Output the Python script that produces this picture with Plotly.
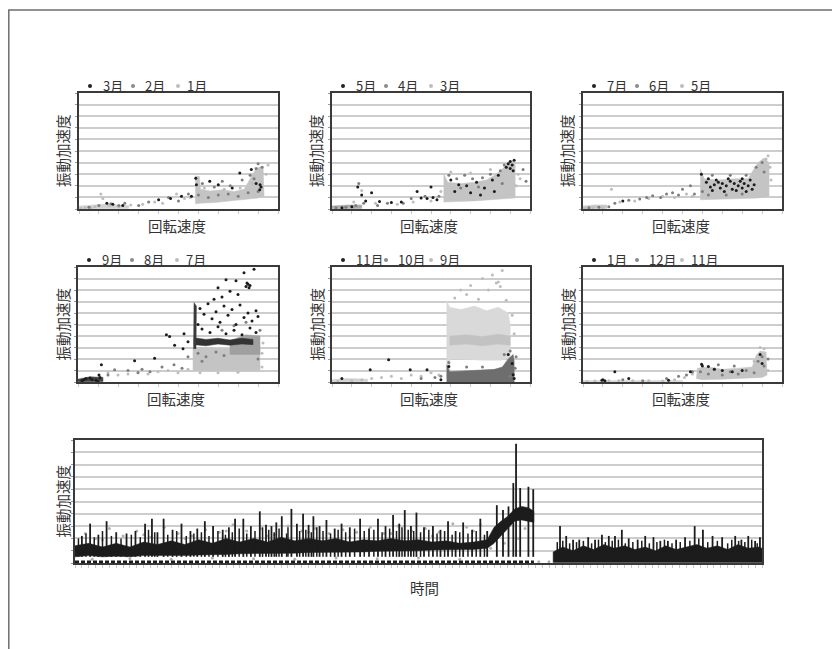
import plotly.graph_objects as go

# page body has an 8px margin: the figure is drawn 8px in from the window corner
OFF = 8
W, H = 832, 641

# ---------------- data: six monthly scatter panels (x = 回転速度, y = 振動加速度) ----------------
P1_MONTHS = ["3月", "2月", "1月"]
P1_LOW_X = [0, 2.5, 2.5, 1.2, 0]
P1_LOW_Y = [0.02, 0.05, 0.3, 0.4, 0.25]
P1_CORE_X = [5.85, 5.85, 6.05, 6.1, 6.6, 7.2, 7.8, 8.3, 8.6, 8.9, 9.25, 9.3, 9.0, 8.4, 7.6, 6.8, 6.1]
P1_CORE_Y = [0.45, 2.85, 2.8, 1.7, 1.55, 1.65, 1.5, 1.7, 2.6, 3.5, 3.7, 1.1, 0.95, 0.85, 0.7, 0.55, 0.5]
P1_BLACK_X = [1.4, 1.7, 2.2, 4.0, 4.6, 5.15, 5.65, 5.87, 5.9, 6.57, 7.0, 7.7, 8.08, 8.66, 8.9, 9.1, 9.08, 9.15]
P1_BLACK_Y = [0.5, 0.4, 0.3, 0.8, 0.9, 1.1, 1.1, 2.65, 2.1, 2.4, 2.1, 1.8, 3.1, 3.4, 2.2, 2.1, 1.66, 1.9]
P1_GREY_X = [0.5, 1.0, 1.6, 2.0, 2.3, 3.0, 3.5, 4.5, 5.0, 5.5, 6.0, 6.2, 6.5, 6.8, 7.0, 7.2, 7.5, 7.6, 8.0, 8.2, 8.5, 8.6, 8.8, 8.9, 9.0, 9.2, 9.0]
P1_GREY_Y = [0.15, 0.3, 0.45, 0.3, 0.5, 0.3, 0.6, 1.0, 0.7, 1.3, 1.2, 2.2, 1.0, 1.9, 1.2, 2.4, 1.3, 2.0, 1.1, 2.5, 1.4, 2.9, 2.6, 3.5, 3.9, 3.6, 1.5]
P1_LIGHT_X = [0.1, 0.3, 0.6, 0.8, 1.1, 1.2, 1.5, 2.0, 2.6, 3.2, 3.8, 4.2, 4.9, 5.3, 5.6, 6.3, 7.3, 8.1, 8.7, 9.4, 9.5]
P1_LIGHT_Y = [0.05, 0.1, 0.08, 0.2, 1.3, 0.9, 0.3, 0.2, 0.35, 0.4, 0.6, 0.5, 1.3, 0.9, 1.0, 1.8, 1.7, 1.8, 2.2, 3.0, 3.8]

P2_MONTHS = ["5月", "4月", "3月"]
P2_LOW_X = [0, 1.5, 1.5, 0.8, 0]
P2_LOW_Y = [0.02, 0.05, 0.35, 0.35, 0.25]
P2_CORE_X = [5.65, 5.65, 5.85, 6.5, 7.2, 7.8, 8.3, 8.7, 9.0, 9.25, 9.25, 8.8, 8.0, 7.2, 6.4, 5.8]
P2_CORE_Y = [0.6, 3.0, 2.3, 2.2, 2.3, 2.5, 3.0, 3.6, 4.2, 4.0, 0.95, 0.9, 0.75, 0.7, 0.65, 0.6]
P2_BLACK_X = [8.8, 8.9, 9.0, 9.1, 9.2, 9.0, 9.15, 6.0, 6.4, 6.8, 7.3, 7.7, 8.1, 8.4, 6.2, 7.0, 7.5, 8.2,
              1.3, 1.5, 1.7, 2.0, 2.4, 3.0, 3.5, 4.3, 4.5, 4.8, 5.1, 5.3, 5.0, 0.5, 1.0]
P2_BLACK_Y = [3.6, 3.9, 4.1, 3.8, 4.2, 3.5, 3.3, 2.5, 2.1, 2.0, 2.3, 1.8, 2.5, 2.9, 1.5, 1.4, 1.2, 1.5,
              1.9, 1.2, 0.7, 1.4, 0.65, 0.55, 0.6, 1.5, 0.95, 0.9, 1.0, 0.8, 1.9, 0.1, 0.2]
P2_GREY_X = [0.2, 0.7, 1.2, 1.35, 1.6, 2.3, 2.8, 3.6, 4.0, 4.7, 5.4, 5.9, 6.3, 6.7, 7.1, 7.6, 8.0, 8.5, 8.7, 9.65, 9.8, 6.5, 7.4, 8.6]
P2_GREY_Y = [0.1, 0.15, 0.3, 2.2, 0.5, 0.3, 0.5, 0.5, 0.9, 1.1, 1.1, 2.9, 2.6, 2.9, 2.6, 2.7, 3.0, 3.3, 3.8, 3.4, 2.4, 1.8, 1.9, 2.2]
P2_LIGHT_X = [0.1, 0.4, 0.9, 1.1, 1.5, 2.2, 3.3, 4.1, 5.0, 5.5, 9.4, 9.3, 6.0, 7.0, 8.0, 9.5]
P2_LIGHT_Y = [0.05, 0.1, 0.1, 0.6, 1.6, 0.5, 0.4, 0.6, 0.7, 1.5, 3.0, 2.0, 3.2, 3.1, 3.4, 2.6]

P3_MONTHS = ["7月", "6月", "5月"]
P3_LOW_X = [0, 1.2, 1.2, 0.6, 0]
P3_LOW_Y = [0.02, 0.05, 0.35, 0.35, 0.25]
P3_CORE_X = [5.9, 5.9, 6.1, 6.8, 7.6, 8.3, 8.5, 8.8, 9.1, 9.35, 9.35, 8.8, 8.0, 7.0, 6.3]
P3_CORE_Y = [0.8, 3.4, 2.6, 2.5, 2.6, 2.6, 3.2, 4.0, 4.4, 4.0, 1.1, 0.95, 0.9, 0.85, 0.8]
P3_BLACK_X = [6.2, 6.4, 6.6, 6.7, 6.9, 7.0, 7.2, 7.3, 7.5, 7.6, 7.8, 7.9, 8.0, 8.1, 8.3, 8.4, 8.5, 8.6,
              6.5, 7.1, 7.7, 8.2, 2.0, 5.95, 6.3, 6.8, 7.4, 8.0]
P3_BLACK_Y = [2.3, 1.9, 2.1, 2.5, 1.8, 2.2, 2.0, 2.6, 1.7, 2.2, 2.0, 2.4, 1.8, 2.2, 2.0, 2.5, 1.7, 2.1,
              1.6, 1.5, 1.6, 1.5, 0.7, 3.0, 2.6, 2.3, 2.4, 2.6]
P3_GREY_X = [0.3, 0.8, 1.3, 1.6, 2.3, 2.85, 3.2, 3.5, 3.9, 4.2, 4.5, 4.8, 5.0, 5.4, 5.6, 6.0, 6.5, 7.4, 8.2, 8.7, 9.0, 9.1, 6.3, 7.2, 8.0]
P3_GREY_Y = [0.1, 0.15, 0.2, 0.5, 0.75, 0.86, 1.0, 1.15, 1.0, 1.3, 1.4, 1.2, 1.7, 2.0, 1.3, 1.5, 2.9, 2.9, 2.9, 3.6, 4.0, 3.2, 1.2, 1.2, 1.3]
P3_LIGHT_X = [0.1, 0.5, 1.0, 1.43, 1.85, 2.6, 3.3, 4.0, 4.6, 5.2, 5.5, 9.4, 9.3, 9.2, 9.45]
P3_LIGHT_Y = [0.05, 0.1, 0.1, 1.7, 0.6, 0.7, 0.9, 1.1, 1.0, 1.3, 1.1, 3.6, 4.6, 4.3, 2.5]

P4_MONTHS = ["9月", "8月", "7月"]
P4_LOW_X = [0, 1.25, 1.25, 0.6, 0]
P4_LOW_Y = [0.02, 0.05, 0.4, 0.45, 0.25]
P4_CORE_X = [5.75, 5.75, 6.5, 7.5, 8.5, 9.1, 9.1, 8.5, 7.5, 6.5]
P4_CORE_Y = [1.0, 3.0, 3.0, 2.9, 3.0, 3.2, 1.0, 0.95, 1.0, 0.95]
P4_GREYCORE_X = [7.6, 9.1, 9.1, 8.4, 7.6]
P4_GREYCORE_Y = [2.4, 2.4, 4.0, 4.1, 3.6]
P4_BAND_X = [5.8, 6.4, 7.0, 7.6, 8.2, 8.75, 8.75, 8.2, 7.6, 7.0, 6.4, 5.8]
P4_BAND_Y = [3.25, 3.15, 3.3, 3.2, 3.3, 3.25, 3.7, 3.8, 3.65, 3.8, 3.7, 3.85]
P4_STRIPE_X = [5.78, 5.9, 5.92, 5.8]
P4_STRIPE_Y = [2.9, 2.9, 6.6, 6.9]
P4_BLACK_X = [8.4, 8.5, 8.6, 8.55, 8.45, 6.1, 6.3, 6.5, 6.7, 6.9, 7.1, 7.3, 7.5, 7.7, 7.9, 8.1, 8.3, 8.5, 8.7, 8.9, 9.0,
              6.2, 6.6, 7.0, 7.4, 7.8, 8.2, 8.6, 8.9, 6.0, 7.2, 7.6, 8.0, 7.9, 8.3, 8.8, 7.4, 7.0, 6.8,
              4.42, 4.58, 4.83, 5.25, 5.5, 5.3, 0.3, 0.6, 0.9, 1.1, 1.17, 1.0, 2.83, 3.83, 0.2, 0.4, 0.7, 1.05]
P4_BLACK_Y = [8.3, 8.5, 8.4, 8.2, 8.6, 6.4, 5.9, 6.8, 5.5, 6.1, 5.2, 6.6, 5.8, 6.3, 5.0, 6.7, 5.6, 6.0, 5.3, 6.2, 5.7,
              4.6, 4.3, 4.8, 4.2, 4.5, 4.1, 4.7, 4.3, 5.0, 7.4, 7.9, 7.6, 8.8, 9.5, 9.8, 8.9, 8.2, 7.2,
              4.1, 3.95, 3.2, 2.9, 3.5, 4.2, 0.2, 0.35, 0.15, 0.4, 1.5, 0.05, 1.84, 2.07, 0.1, 0.3, 0.2, 0.6]
P4_GREY_X = [6.0, 6.4, 6.9, 7.3, 7.2, 7.8, 8.4, 9.1, 9.0, 6.2, 1.5, 1.83, 2.5, 3.2, 3.6, 4.2, 4.8, 5.2, 5.5, 3.0]
P4_GREY_Y = [2.5, 2.2, 2.6, 2.3, 4.5, 4.9, 5.2, 4.5, 2.0, 1.8, 0.6, 1.07, 1.0, 1.1, 0.9, 1.3, 1.5, 1.2, 2.2, 0.8]
P4_LIGHT_X = [1.5, 2.0, 2.5, 3.0, 3.5, 4.0, 4.5, 5.0, 5.5, 9.2, 9.2, 9.25, 6.1, 7.0, 8.0]
P4_LIGHT_Y = [0.8, 0.6, 0.7, 0.9, 0.7, 0.9, 1.0, 0.8, 1.1, 1.3, 2.5, 3.4, 0.8, 0.8, 0.85]

P5_MONTHS = ["11月", "10月", "9月"]
P5_LOW_X = [0, 1.8, 1.8, 0.8, 0]
P5_LOW_Y = [0.02, 0.05, 0.25, 0.3, 0.2]
P5_CORE_X = [5.8, 5.8, 5.95, 6.5, 7.2, 7.8, 8.4, 8.9, 9.0, 9.0, 8.5, 7.5, 6.5, 5.95, 5.95]
P5_CORE_Y = [0.4, 7.0, 6.5, 6.3, 6.6, 6.2, 6.5, 6.0, 5.0, 2.1, 1.9, 1.9, 2.0, 2.0, 0.4]
P5_DENSE_X = [5.95, 6.8, 7.6, 8.4, 9.0, 9.0, 8.4, 7.6, 6.8, 5.95]
P5_DENSE_Y = [3.2, 3.3, 3.15, 3.3, 3.2, 4.0, 4.15, 3.95, 4.1, 4.0]
P5_GREYCORE_X = [5.8, 5.8, 5.95, 6.5, 7.5, 8.2, 8.6, 8.9, 9.15, 9.2, 9.2]
P5_GREYCORE_Y = [0.0, 1.5, 0.9, 0.95, 1.0, 1.1, 1.3, 2.0, 2.4, 1.8, 0.0]
P5_LIGHT_X = [6.2, 6.8, 7.4, 7.9, 8.3, 8.5, 8.4, 8.1, 8.6, 7.6, 7.0, 6.5, 8.8, 9.1, 9.2,
              1.0, 1.5, 0.3, 2.0, 2.5, 3.0, 3.5, 4.0, 4.5, 5.0, 5.4]
P5_LIGHT_Y = [7.3, 7.6, 7.2, 8.0, 8.6, 8.3, 8.7, 9.3, 9.7, 9.0, 8.4, 8.0, 7.1, 5.8, 4.2,
              0.1, 0.2, 0.08, 0.3, 0.4, 0.5, 0.3, 0.6, 0.5, 0.8, 0.6]
P5_GREY_X = [8.7, 9.0, 9.3, 9.25, 5.9, 6.8, 7.6, 4.5, 5.2, 5.5, 9.0]
P5_GREY_Y = [2.4, 2.7, 2.2, 1.2, 1.7, 1.3, 1.3, 0.3, 0.4, 0.5, 0.5]
P5_BLACK_X = [5.9, 9.15, 9.1, 8.9, 1.93, 3.95, 4.8, 2.86, 9.2, 5.5, 0.5]
P5_BLACK_Y = [1.35, 0.63, 1.6, 2.4, 1.07, 1.07, 1.07, 1.93, 0.3, 0.2, 0.3]

P6_MONTHS = ["1月", "12月", "11月"]
P6_LOW_X = [0, 5.0, 5.0, 0]
P6_LOW_Y = [0.02, 0.02, 0.14, 0.14]
P6_CORE_X = [5.7, 5.75, 6.3, 7.0, 7.8, 8.5, 8.7, 8.9, 9.2, 9.25, 9.0, 8.0, 7.0, 6.0]
P6_CORE_Y = [0.3, 1.2, 1.3, 1.1, 1.2, 1.3, 2.3, 2.7, 2.6, 0.6, 0.4, 0.3, 0.25, 0.2]
P6_GREY_X = [5.9, 6.3, 6.6, 7.0, 7.4, 7.8, 8.2, 8.6, 8.8, 9.0, 9.1, 9.3, 2.0, 3.0, 4.2, 4.8, 5.2, 5.5, 6.8, 7.6]
P6_GREY_Y = [0.9, 0.7, 1.1, 0.6, 0.9, 0.7, 1.0, 0.8, 1.8, 2.2, 1.4, 2.0, 0.2, 0.1, 0.3, 0.5, 0.6, 0.9, 1.5, 1.4]
P6_BLACK_X = [1.0, 1.1, 0.95, 5.96, 6.0, 6.3, 6.6, 7.0, 7.5, 8.0, 8.9, 9.0, 2.3, 4.3, 1.6, 5.4]
P6_BLACK_Y = [0.2, 0.1, 0.15, 1.54, 1.4, 1.35, 1.1, 1.0, 0.9, 1.0, 2.4, 1.6, 0.3, 0.15, 0.9, 0.9]
P6_LIGHT_X = [0.2, 0.6, 1.3, 1.8, 2.5, 3.3, 4.0, 4.6, 5.1, 5.5, 8.9, 9.1, 8.6, 9.3]
P6_LIGHT_Y = [0.05, 0.08, 0.1, 0.1, 0.1, 0.1, 0.08, 0.2, 0.4, 0.7, 3.0, 2.9, 1.8, 1.0]

# ---------------- data: time series panel (x = 時間, y = 振動加速度) ----------------
BAND_A_T = [0, 2, 4, 6, 8, 10, 12, 14, 16, 18, 20, 22, 24, 26, 28, 30, 32, 34, 36, 38, 40, 42, 44, 46, 48, 50,
            52, 54, 56, 58, 60, 61, 62, 63, 64, 65, 66, 66.8]
BAND_A_HI = [1.4, 1.6, 1.3, 1.6, 1.3, 1.7, 1.5, 1.8, 1.5, 1.9, 1.6, 2.0, 1.7, 2.0, 1.7, 2.1, 1.8, 2.0, 1.8, 2.0,
             1.7, 1.9, 1.8, 2.0, 1.8, 1.9, 1.7, 1.8, 1.6, 1.7, 1.9, 2.9, 3.4, 3.8, 4.4, 4.6, 4.5, 4.2]
BAND_A_LO = [0.5, 0.6, 0.5, 0.55, 0.5, 0.6, 0.55, 0.6, 0.6, 0.65, 0.7, 0.7, 0.75, 0.8, 0.8, 0.8, 0.8, 0.85,
             0.85, 0.9, 0.9, 0.9, 0.95, 1.0, 1.0, 1.0, 1.05, 1.1, 1.1, 1.1, 1.2, 1.6, 2.2, 2.8, 3.4, 3.5, 3.4, 3.3]
BAND_B_T = [69.6, 71, 72.5, 74, 75.5, 77, 78.5, 80, 81.5, 83, 84.5, 86, 87.5, 89, 90.5, 92, 93.5, 95, 96.5, 98, 99.5, 100]
BAND_B_HI = [0.9, 1.3, 1.0, 1.4, 1.1, 1.5, 1.2, 1.4, 1.1, 1.3, 1.0, 1.4, 1.1, 1.3, 1.5, 1.2, 1.4, 1.1, 1.5, 1.2, 1.3, 1.2]
BAND_B_LO = [0.05, 0.05, 0.05, 0.05, 0.05, 0.05, 0.05, 0.05, 0.05, 0.05, 0.05, 0.05, 0.05, 0.05, 0.05, 0.05,
             0.05, 0.05, 0.05, 0.05, 0.05, 0.05]
SPIKE_T = [1.0, 2.2, 3.4, 4.6, 6.0, 7.5, 8.8, 10.2, 11.2, 12.0, 12.9, 14.2, 15.5, 16.8, 17.8, 18.9, 20.1, 21.5,
           22.4, 23.3, 24.5, 25.6, 26.9, 27.8, 28.6, 29.3, 30.1, 31.5, 32.3, 33.2, 34.0, 34.7, 35.6, 36.6, 37.8,
           38.8, 40.0, 41.5, 42.8, 44.1, 45.2, 46.3, 47.2, 48.0, 48.9, 49.7, 50.8, 52.1, 53.2, 54.3, 55.4, 56.5,
           57.8, 59.0, 60.0,
           61.4, 62.3, 63.1, 63.8, 64.2, 64.8, 66.0, 66.7,
           70.6, 71.5, 72.5, 73.4, 74.7, 75.7, 76.7, 77.7, 78.6, 79.6, 80.6, 81.9, 83.0, 84.2, 85.2, 86.3, 87.5,
           88.8, 90.2, 91.4, 92.8, 94.2, 96.1, 97.0, 98.0, 99.0, 99.7]
SPIKE_Y = [2.2, 3.2, 2.3, 3.4, 2.5, 2.4, 2.6, 3.2, 3.6, 2.5, 3.6, 2.7, 3.2, 2.6, 2.8, 3.4, 3.0, 2.7,
           2.9, 3.6, 3.6, 3.0, 4.2, 3.1, 3.0, 3.3, 3.8, 4.4, 3.2, 4.0, 3.1, 3.8, 3.0, 3.5, 2.8,
           3.2, 2.9, 3.6, 2.8, 3.6, 3.0, 3.9, 3.2, 4.3, 3.0, 4.1, 2.9, 3.0, 2.7, 3.4, 2.6, 3.3,
           2.7, 3.6, 2.6,
           4.7, 4.3, 4.6, 6.5, 9.7, 6.1, 6.2, 6.0,
           3.0, 2.2, 1.9, 1.9, 2.1, 1.9, 2.3, 2.2, 2.2, 2.7, 2.0, 1.9, 2.2, 2.1, 1.8, 1.8, 1.9,
           2.1, 3.0, 2.7, 2.2, 2.1, 2.2, 1.9, 2.2, 1.8, 2.1]
MINOR_T = [0.5, 1.6, 2.8, 4.0, 5.3, 6.7, 8.2, 9.5, 10.7, 11.6, 13.5, 14.8, 16.2, 17.3, 18.4, 19.5, 20.8, 21.9,
           22.9, 23.9, 25.0, 26.2, 27.3, 28.2, 29.0, 29.7, 30.8, 31.0, 32.7, 33.6, 34.4, 35.2, 36.1, 37.2, 38.3,
           39.4, 40.7, 42.1, 43.5, 44.7, 45.8, 46.8, 47.6, 48.5, 49.3, 50.3, 51.5, 52.7, 53.8, 54.9, 56.0, 57.2,
           58.4, 59.6,
           70.2, 71.0, 72.0, 73.0, 74.0, 75.2, 76.2, 77.2, 78.2, 79.1, 80.1, 81.2, 82.5, 83.6, 84.7, 85.8, 86.9,
           88.1, 89.5, 90.8, 92.1, 93.5, 95.0, 95.6, 96.6, 97.5, 98.5, 99.3]
MINOR_Y = [2.0, 2.4, 2.1, 2.6, 2.2, 2.0, 2.3, 2.1, 2.7, 2.5, 2.3, 2.6, 2.2, 2.4, 2.5, 2.2, 2.6, 2.3,
           2.5, 2.8, 2.4, 2.6, 2.9, 2.7, 2.5, 2.8, 2.4, 2.9, 2.6, 2.7, 2.5, 2.9, 2.6, 2.4, 2.7,
           2.5, 2.8, 2.6, 2.7, 2.5, 2.8, 2.6, 2.9, 2.7, 2.6, 2.5, 2.7, 2.4, 2.6, 2.3, 2.5, 2.4,
           2.6, 2.3,
           1.7, 1.8, 1.6, 1.7, 1.8, 1.6, 1.9, 1.7, 1.8, 1.9, 1.6, 1.7, 1.8, 1.6, 1.7, 1.9, 1.6,
           1.7, 1.8, 2.0, 1.7, 1.8, 1.6, 1.9, 1.8, 1.7, 1.9, 1.6]
SCAT_T = [1.5, 3, 5, 7, 9, 11, 13, 15, 17, 19, 21, 23, 25, 27, 29, 31, 33, 35, 37, 39, 41, 43, 45, 47, 49, 51,
          53, 55, 57, 59, 2.5, 8, 14, 20, 26, 32, 38, 44, 50, 56, 67.5, 69,
          4, 10, 16, 22, 28, 34, 40, 46, 52, 58, 60.5, 62.5, 65.5, 64.5]
SCAT_Y = [2.4, 2.0, 2.8, 2.2, 2.6, 2.1, 2.9, 2.4, 2.2, 2.7, 2.5, 3.1, 2.6, 2.8, 2.3, 3.0, 2.6, 2.8, 2.4, 2.7,
          2.5, 2.9, 2.4, 3.0, 2.6, 2.8, 2.5, 3.2, 2.9, 3.1, 0.3, 0.35, 0.3, 0.4, 0.35, 0.3, 0.4, 0.35, 0.4, 0.3,
          0.1, 0.1,
          1.9, 2.3, 2.0, 2.6, 2.2, 2.5, 2.1, 2.4, 2.2, 2.6, 1.2, 1.6, 2.8, 2.0]
FLOOR_T = [0, 66.8]
FLOOR_Y = [0.1, 0.1]

# ---------------- style / layout config ----------------
BLACK, GREY, LIGHT = "#1c1c1c", "#7e7e7e", "#bdbdbd"
CORE_LIGHT = "#c4c4c4"
FONT = "Noto Sans CJK JP"
TXT = "#333333"

PANELS = [
    dict(box=(79, 278, 93, 209), months=P1_MONTHS,
         polys=[(P1_LOW_X, P1_LOW_Y, "#d2d2d2"), (P1_CORE_X, P1_CORE_Y, CORE_LIGHT)],
         light=(P1_LIGHT_X, P1_LIGHT_Y), grey=(P1_GREY_X, P1_GREY_Y), black=(P1_BLACK_X, P1_BLACK_Y)),
    dict(box=(332, 530, 93, 209), months=P2_MONTHS,
         polys=[(P2_LOW_X, P2_LOW_Y, "#a8a8a8"), (P2_CORE_X, P2_CORE_Y, CORE_LIGHT)],
         light=(P2_LIGHT_X, P2_LIGHT_Y), grey=(P2_GREY_X, P2_GREY_Y), black=(P2_BLACK_X, P2_BLACK_Y)),
    dict(box=(583, 782, 93, 209), months=P3_MONTHS,
         polys=[(P3_LOW_X, P3_LOW_Y, "#c8c8c8"), (P3_CORE_X, P3_CORE_Y, CORE_LIGHT)],
         light=(P3_LIGHT_X, P3_LIGHT_Y), grey=(P3_GREY_X, P3_GREY_Y), black=(P3_BLACK_X, P3_BLACK_Y)),
    dict(box=(78, 278, 267, 382), months=P4_MONTHS,
         polys=[(P4_LOW_X, P4_LOW_Y, "#444444"), (P4_CORE_X, P4_CORE_Y, CORE_LIGHT),
                (P4_GREYCORE_X, P4_GREYCORE_Y, "#a0a0a0"), (P4_BAND_X, P4_BAND_Y, "#333333"),
                (P4_STRIPE_X, P4_STRIPE_Y, "#3a3a3a")],
         light=(P4_LIGHT_X, P4_LIGHT_Y), grey=(P4_GREY_X, P4_GREY_Y), black=(P4_BLACK_X, P4_BLACK_Y)),
    dict(box=(332, 530, 267, 382), months=P5_MONTHS,
         polys=[(P5_LOW_X, P5_LOW_Y, "#d0d0d0"), (P5_CORE_X, P5_CORE_Y, "#d9d9d9"),
                (P5_DENSE_X, P5_DENSE_Y, "#c2c2c2"), (P5_GREYCORE_X, P5_GREYCORE_Y, "#6e6e6e")],
         light=(P5_LIGHT_X, P5_LIGHT_Y), grey=(P5_GREY_X, P5_GREY_Y), black=(P5_BLACK_X, P5_BLACK_Y)),
    dict(box=(583, 782, 267, 382), months=P6_MONTHS,
         polys=[(P6_LOW_X, P6_LOW_Y, "#d4d4d4"), (P6_CORE_X, P6_CORE_Y, CORE_LIGHT)],
         light=(P6_LIGHT_X, P6_LIGHT_Y), grey=(P6_GREY_X, P6_GREY_Y), black=(P6_BLACK_X, P6_BLACK_Y)),
]
BOTTOM_BOX = (75, 762, 440, 563)


def px(x):
    return (x - OFF) / W


def py(y):
    return 1 - (y - OFF) / H


fig = go.Figure()
annotations = []
shapes = []


def axis_pair(i, box, xr, nx):
    l, r, t, b = box
    sfx = "" if i == 1 else str(i)
    common = dict(showline=True, mirror=True, linecolor="#3a3a3a", linewidth=1.6,
                  zeroline=False, showticklabels=False, fixedrange=True)
    fig.layout["xaxis" + sfx] = dict(domain=[px(l), px(r)], range=xr, anchor="y" + sfx, showgrid=False,
                                     ticks="outside", ticklen=3, tickcolor="#c8c8c8", tickwidth=1,
                                     dtick=(xr[1] - xr[0]) / nx, **common)
    fig.layout["yaxis" + sfx] = dict(domain=[py(b), py(t)], range=[0, 10], anchor="x" + sfx, showgrid=True,
                                     gridcolor="#cdcdcd", gridwidth=2, dtick=1, ticks="outside", ticklen=2,
                                     tickcolor="#9a9a9a", **common)
    return "x" + sfx, "y" + sfx


def add_poly(xa, ya, xs, ys, color):
    fig.add_trace(go.Scatter(x=list(xs) + [xs[0]], y=list(ys) + [ys[0]], mode="lines", fill="toself",
                             fillcolor=color, line=dict(width=0.5, color=color), xaxis=xa, yaxis=ya,
                             hoverinfo="skip", showlegend=False))


def add_pts(xa, ya, xs, ys, color, size=3):
    fig.add_trace(go.Scatter(x=xs, y=ys, mode="markers", marker=dict(size=size, color=color, line=dict(width=0)),
                             xaxis=xa, yaxis=ya, hoverinfo="skip", showlegend=False))


title_font = dict(size=14.5, color=TXT, family=FONT)
for i, p in enumerate(PANELS, start=1):
    xa, ya = axis_pair(i, p["box"], [0, 10], 10)
    for xs, ys, c in p["polys"]:
        add_poly(xa, ya, xs, ys, c)
    add_pts(xa, ya, *p["light"], LIGHT)
    add_pts(xa, ya, *p["grey"], GREY)
    add_pts(xa, ya, *p["black"], BLACK)
    l, r, t, b = p["box"]
    annotations.append(dict(text="回転速度", x=px((l + r) / 2 - 2), y=py(225 if t < 200 else 398),
                            xanchor="center", yanchor="middle",
                            xref="paper", yref="paper", showarrow=False, font=title_font))
    annotations.append(dict(text="振動加速度", x=px(l - 16), y=py((t + b) / 2), textangle=-90,
                            xanchor="center", yanchor="middle",
                            xref="paper", yref="paper", showarrow=False, font=title_font))
    ly = t - 7
    for (mo, to), name, col in zip([(11, 22), (54, 64), (99, 106)], p["months"], ["#222222", "#8a8a8a", "#bdbdbd"]):
        cx = l + mo
        shapes.append(dict(type="circle", xref="paper", yref="paper", x0=px(cx - 2), x1=px(cx + 2),
                           y0=py(ly + 2), y1=py(ly - 2), fillcolor=col, line=dict(width=0)))
        annotations.append(dict(text=name, x=px(l + to), y=py(ly), xanchor="left", yanchor="middle",
                                xref="paper", yref="paper", showarrow=False,
                                font=dict(size=13, color=TXT, family=FONT)))

# bottom time-series panel
xa, ya = axis_pair(7, BOTTOM_BOX, [0, 100], 100)
add_pts(xa, ya, SCAT_T, SCAT_Y, "#b0b0b0", size=3)
fig.add_trace(go.Scatter(x=FLOOR_T, y=FLOOR_Y, mode="lines", line=dict(color=BLACK, width=2.5, dash="4px,2px"),
                         xaxis=xa, yaxis=ya, hoverinfo="skip", showlegend=False))
add_poly(xa, ya, BAND_A_T + BAND_A_T[::-1], BAND_A_HI + BAND_A_LO[::-1], BLACK)
add_poly(xa, ya, BAND_B_T + BAND_B_T[::-1], BAND_B_HI + BAND_B_LO[::-1], BLACK)
for ts, vs, wd in [(MINOR_T, MINOR_Y, 1.5), (SPIKE_T, SPIKE_Y, 1.8)]:
    sx, sy = [], []
    for t, v in zip(ts, vs):
        sx += [t, t, None]
        sy += [0.5, v, None]
    fig.add_trace(go.Scatter(x=sx, y=sy, mode="lines", line=dict(color=BLACK, width=wd),
                             xaxis=xa, yaxis=ya, hoverinfo="skip", showlegend=False))
l, r, t, b = BOTTOM_BOX
annotations.append(dict(text="時間", x=px(424), y=py(587), xanchor="center", yanchor="middle",
                        xref="paper", yref="paper", showarrow=False, font=title_font))
annotations.append(dict(text="振動加速度", x=px(62), y=py((t + b) / 2), textangle=-90,
                        xanchor="center", yanchor="middle", xref="paper", yref="paper",
                        showarrow=False, font=title_font))

# outer frame of the figure
shapes.append(dict(type="rect", xref="paper", yref="paper", x0=px(8.8), x1=1.05, y0=-0.05, y1=py(10),
                   line=dict(color="#6e6e6e", width=1.5), fillcolor="rgba(0,0,0,0)"))

fig.update_layout(width=W, height=H, margin=dict(l=0, r=0, t=0, b=0), paper_bgcolor="white",
                  plot_bgcolor="white", showlegend=False, annotations=annotations, shapes=shapes,
                  font=dict(family=FONT, color=TXT))
fig.write_html("out.html")
